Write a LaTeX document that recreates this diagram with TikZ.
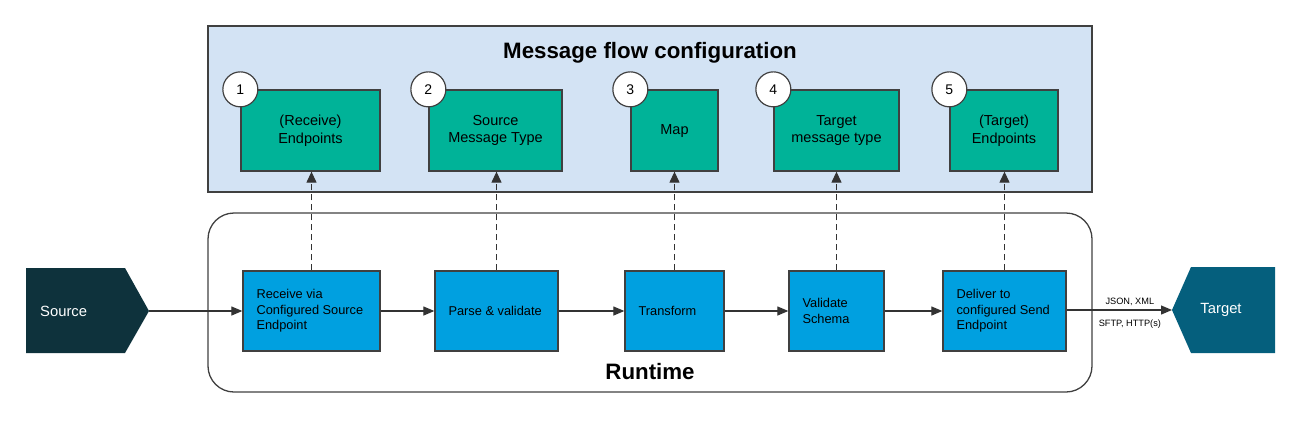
\documentclass[tikz,border=0pt]{standalone}
\usepackage{fontspec}
\setmainfont{Liberation Sans}
\usetikzlibrary{arrows.meta}
\definecolor{cfgfill}{HTML}{D3E3F4}
\definecolor{edgegray}{HTML}{404040}
\definecolor{greenbox}{HTML}{00B398}
\definecolor{bluebox}{HTML}{00A0E0}
\definecolor{srcfill}{HTML}{0E323C}
\definecolor{tgtfill}{HTML}{055F7D}
\definecolor{arrowgray}{HTML}{333333}
\tikzset{
  cfgbox/.style={draw=edgegray,line width=1.3pt,fill=greenbox,minimum height=81pt,inner sep=2pt,align=center,
    font=\fontsize{14.5}{17.5}\selectfont},
  runbox/.style={draw=edgegray,line width=1.3pt,fill=bluebox,minimum height=80pt,inner sep=0pt},
  runtext/.style={anchor=west,align=left,inner sep=0pt,font=\fontsize{12.8}{15.5}\selectfont},
  numcirc/.style={circle,draw=edgegray,line width=1.2pt,fill=white,minimum size=35pt,inner sep=0pt,
    font=\fontsize{14}{16}\selectfont},
  flow/.style={draw=arrowgray,line width=1.2pt,-{Triangle[length=11pt,width=9pt]}},
  cfglink/.style={draw=arrowgray,line width=1.2pt,dash pattern=on 6pt off 4pt,-{Triangle[length=11pt,width=10pt]}},
  heading/.style={font=\bfseries\fontsize{22.3}{25}\selectfont},
  smalllabel/.style={font=\fontsize{9.2}{11}\selectfont,inner sep=1pt},
  endlabel/.style={text=white,font=\fontsize{14.8}{18}\selectfont,inner sep=0pt}
}
\begin{document}
\begin{tikzpicture}[x=1pt,y=-1pt]
\useasboundingbox (0,0) rectangle (1298,421);
% panels
\draw[fill=cfgfill,draw=edgegray,line width=1.3pt] (208,26) rectangle (1092,192);
\node[heading] (cfgtitle) at (650,53) {Message flow configuration};
\draw[draw=edgegray,line width=1.3pt,rounded corners=26pt] (208,213) rectangle (1092,392);
\node[heading] (runtitle) at (650,372) {Runtime};
% green configuration boxes
\node[cfgbox,minimum width=139pt] (g1) at (310.5,130.5) {(Receive)\\Endpoints};
\node[cfgbox,minimum width=133pt] (g2) at (495.5,130.5) {Source\\Message Type};
\node[cfgbox,minimum width=87pt]  (g3) at (674.5,130.5) {\strut Map};
\node[cfgbox,minimum width=125pt] (g4) at (836.5,130.5) {Target\\message type};
\node[cfgbox,minimum width=108pt] (g5) at (1004,130.5) {(Target)\\Endpoints};
\foreach \i in {1,...,5}{
  \node[numcirc] (c\i) at (g\i.north west) {\i};
}
% blue runtime boxes
\node[runbox,minimum width=137pt] (b1) at (311.5,311) {};
\node[runbox,minimum width=123pt] (b2) at (496.5,311) {};
\node[runbox,minimum width=99pt]  (b3) at (674.5,311) {};
\node[runbox,minimum width=95pt]  (b4) at (836.5,311) {};
\node[runbox,minimum width=123pt] (b5) at (1004.5,311) {};
\node[runtext] (t1) at ([xshift=14pt]b1.west) {Receive via\\Configured Source\\Endpoint};
\node[runtext] (t2) at ([xshift=14pt]b2.west) {Parse \& validate};
\node[runtext] (t3) at ([xshift=14pt]b3.west) {Transform};
\node[runtext] (t4) at ([xshift=14pt]b4.west) {Validate\\Schema};
\node[runtext] (t5) at ([xshift=14pt]b5.west) {Deliver to\\configured Send\\Endpoint};
% source and target
\fill[srcfill] (26,268) -- (125,268) -- (149,311) -- (125,353) -- (26,353) -- cycle;
\coordinate (srctip) at (149,311);
\node[endlabel,anchor=west] (src) at (40,311) {Source};
\fill[tgtfill] (1172,310) -- (1191,267) -- (1275,267) -- (1275,353) -- (1191,353) -- cycle;
\coordinate (tgttip) at (1172,310);
\node[endlabel] (tgt) at (1221,310) {Target};
% flow arrows
\draw[flow] (srctip) -- (b1.west |- srctip);
\draw[flow] (b1) -- (b2);
\draw[flow] (b2) -- (b3);
\draw[flow] (b3) -- (b4);
\draw[flow] (b4) -- (b5);
\draw[flow] (b5.east |- tgttip) -- (tgttip)
  node[smalllabel,pos=0.6,above=3pt] (l1) {JSON, XML}
  node[smalllabel,pos=0.6,below=8pt] (l2) {SFTP, HTTP(s)};
% configuration links
\foreach \i in {1,...,5}{
  \draw[cfglink] (b\i.north) -- (b\i.north |- g\i.south);
}
\end{tikzpicture}
\end{document}
